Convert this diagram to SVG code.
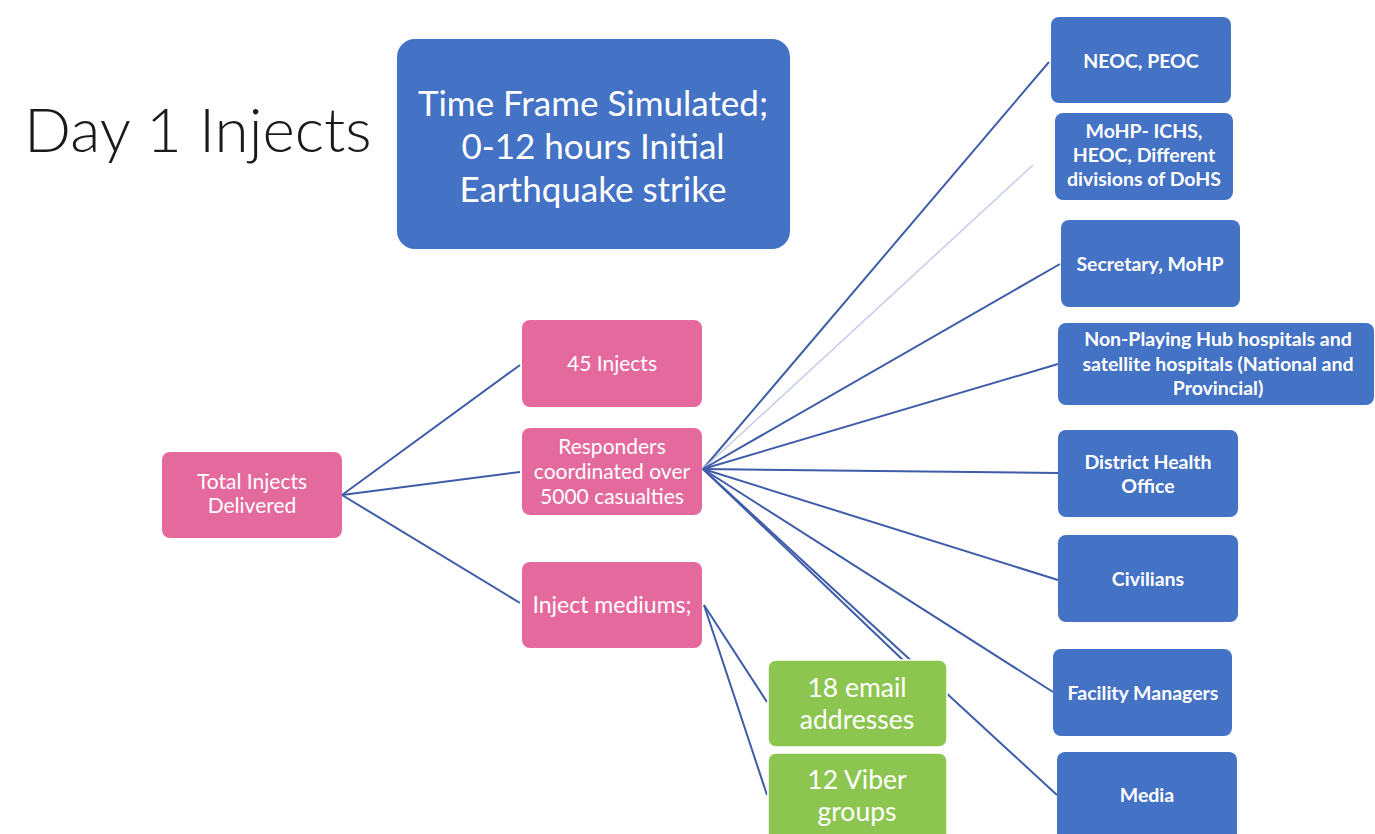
<svg xmlns="http://www.w3.org/2000/svg" width="1375" height="834" viewBox="0 0 1375 834">
<style>
.blue{fill:#4472C4}
.pink{fill:#E46A9E}
.green{fill:#8CC650;stroke:#ffffff;stroke-width:1.5}
.lb{font-family:Lato,"Liberation Sans",sans-serif;font-weight:700;font-size:19.5px;fill:#ffffff;text-anchor:middle}
.lp{font-family:Lato,"Liberation Sans",sans-serif;font-weight:400;font-size:21px;fill:#ffffff;text-anchor:middle}
.lg{font-family:Lato,"Liberation Sans",sans-serif;font-weight:400;font-size:26.5px;fill:#ffffff;text-anchor:middle}
.lt{font-family:Lato,"Liberation Sans",sans-serif;font-weight:400;font-size:35px;fill:#ffffff;text-anchor:middle}
.con line{stroke:#3F5CA8;stroke-width:2;fill:none}
</style>
<rect width="1375" height="834" fill="#ffffff"/>
<text id="title" x="24" y="152" font-family="Lato,'Liberation Sans',sans-serif" font-weight="300" font-size="62" fill="#1a1a1a">Day 1 Injects</text>
<g id="connectors" class="con">
<line x1="342" y1="495" x2="520" y2="365"/>
<line x1="342" y1="495" x2="520" y2="472"/>
<line x1="342" y1="495" x2="520" y2="603"/>
<line x1="703" y1="469" x2="1049" y2="62"/>
<line x1="703" y1="469" x2="1033" y2="165" style="stroke:#C5CBE8;stroke-width:1.5"/>
<line x1="703" y1="469" x2="1060" y2="264"/>
<line x1="703" y1="469" x2="1058" y2="364"/>
<line x1="703" y1="469" x2="1058" y2="473"/>
<line x1="703" y1="469" x2="1058" y2="580"/>
<line x1="703" y1="469" x2="1053" y2="692"/>
<line x1="703" y1="469" x2="1057" y2="795"/>
<line x1="703" y1="469" x2="905" y2="662"/>
<line x1="704" y1="605" x2="767" y2="702"/>
<line x1="704" y1="605" x2="767" y2="795"/>
</g>
<g id="timeframe">
<rect class="blue" x="397" y="39" width="393" height="210" rx="18"/>
<text class="lt" x="593" y="116">Time Frame Simulated;</text>
<text class="lt" x="593" y="159">0-12 hours Initial</text>
<text class="lt" x="593" y="202">Earthquake strike</text>
</g>
<g id="total">
<rect class="pink" x="162" y="452" width="180" height="86" rx="8"/>
<text class="lp" x="252" y="489">Total Injects</text>
<text class="lp" x="252" y="513">Delivered</text>
</g>
<g id="injects45">
<rect class="pink" x="522" y="320" width="180" height="87" rx="8"/>
<text class="lp" x="612" y="371">45 Injects</text>
</g>
<g id="responders">
<rect class="pink" x="522" y="428" width="180" height="87" rx="8"/>
<text class="lp" x="612" y="454">Responders</text>
<text class="lp" x="612" y="479">coordinated over</text>
<text class="lp" x="612" y="504">5000 casualties</text>
</g>
<g id="mediums">
<rect class="pink" x="522" y="562" width="180" height="86" rx="8"/>
<text class="lp" x="612" y="613" style="font-size:23px">Inject mediums;</text>
</g>
<g id="email">
<rect class="green" x="768" y="660" width="179" height="87" rx="8"/>
<text class="lg" x="857" y="697">18 email</text>
<text class="lg" x="857" y="729">addresses</text>
</g>
<g id="viber">
<rect class="green" x="768" y="753" width="179" height="90" rx="8"/>
<text class="lg" x="857" y="789">12 Viber</text>
<text class="lg" x="857" y="821">groups</text>
</g>
<g id="neoc">
<rect class="blue" x="1051" y="17" width="180" height="86" rx="8"/>
<text class="lb" x="1141" y="68">NEOC, PEOC</text>
</g>
<g id="mohp">
<rect class="blue" x="1055" y="113" width="178" height="87" rx="8"/>
<text class="lb" x="1144" y="138">MoHP- ICHS,</text>
<text class="lb" x="1144" y="162">HEOC, Different</text>
<text class="lb" x="1144" y="186">divisions of DoHS</text>
</g>
<g id="secretary">
<rect class="blue" x="1061" y="220" width="179" height="87" rx="8"/>
<text class="lb" x="1150" y="271">Secretary, MoHP</text>
</g>
<g id="nonplaying">
<rect class="blue" x="1058" y="323" width="316" height="82" rx="8"/>
<text class="lb" x="1218" y="346">Non-Playing Hub hospitals and</text>
<text class="lb" x="1218" y="371">satellite hospitals (National and</text>
<text class="lb" x="1218" y="395">Provincial)</text>
</g>
<g id="district">
<rect class="blue" x="1058" y="430" width="180" height="87" rx="8"/>
<text class="lb" x="1148" y="469">District Health</text>
<text class="lb" x="1148" y="493">Office</text>
</g>
<g id="civilians">
<rect class="blue" x="1058" y="535" width="180" height="87" rx="8"/>
<text class="lb" x="1148" y="586">Civilians</text>
</g>
<g id="facility">
<rect class="blue" x="1053" y="649" width="179" height="87" rx="8"/>
<text class="lb" x="1143" y="700">Facility Managers</text>
</g>
<g id="media">
<rect class="blue" x="1057" y="752" width="180" height="92" rx="8"/>
<text class="lb" x="1147" y="802">Media</text>
</g>
</svg>
